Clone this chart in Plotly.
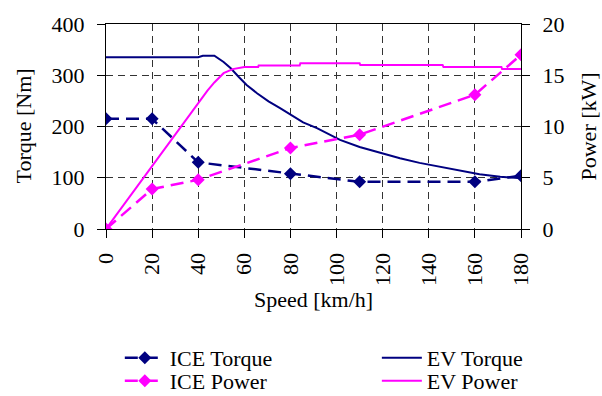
import plotly.graph_objects as go

# ---- data ----
ice_speed = [0, 20, 40, 80, 110, 160, 180]
ice_torque = [215, 215, 130, 108, 92, 92, 104]
ice_power = [0, 3.9, 4.8, 7.9, 9.2, 13.1, 17.0]

ev_torque_speed = [0, 10, 20, 30, 40, 42, 47, 51, 54, 57.5, 61, 65.5, 70.5, 75.5, 80,
                   85.5, 91.5, 97, 101.5, 110, 119, 127.5, 136, 145, 153.5, 162, 171, 180]
ev_torque = [335, 335, 335, 335, 335, 338, 338, 326, 314, 297, 281, 265, 249, 236, 223,
             208, 197, 185, 174, 160, 148, 138, 129, 121, 114, 107, 102, 99]

ev_power_speed = [0, 20, 40, 44, 47, 51, 55, 60, 66, 66.2, 84, 84.3, 110, 110.3,
                  146, 146.4, 171.5, 171.8, 180]
ev_power = [0, 6.1, 12.3, 13.5, 14.3, 15.2, 15.6, 15.8, 15.8, 15.95, 15.95, 16.17,
            16.17, 16.0, 16.0, 15.8, 15.8, 15.6, 15.6]

x_ticks = [0, 20, 40, 60, 80, 100, 120, 140, 160, 180]

NAVY = "#000080"
MAG = "#FF00FF"
FONT = "Liberation Serif, Times New Roman, serif"
FS = 22

fig = go.Figure()
fig.add_trace(go.Scatter(x=ice_speed, y=ice_torque, name="ICE Torque", mode="lines+markers",
                         legend="legend",
                         line=dict(color=NAVY, width=2.5, dash="13px,7px"),
                         marker=dict(symbol="diamond", size=10, color=NAVY)))
fig.add_trace(go.Scatter(x=ev_torque_speed, y=ev_torque, name="EV Torque", mode="lines",
                         legend="legend2",
                         line=dict(color=NAVY, width=2)))
fig.add_trace(go.Scatter(x=ice_speed, y=ice_power, name="ICE Power", mode="lines+markers",
                         yaxis="y2", legend="legend3",
                         line=dict(color=MAG, width=2.5, dash="13px,7px"),
                         marker=dict(symbol="diamond", size=10, color=MAG)))
fig.add_trace(go.Scatter(x=ev_power_speed, y=ev_power, name="EV Power", mode="lines",
                         yaxis="y2", legend="legend4",
                         line=dict(color=MAG, width=2)))

axis_common = dict(showline=True, linecolor="black", linewidth=1.3, ticks="outside",
                   ticklen=8, tickcolor="black", automargin=False,
                   tickfont=dict(family=FONT, size=FS, color="black"),
                   zeroline=False)

leg_common = dict(orientation="v", yanchor="middle", xanchor="left",
                  xref="container", yref="container", itemwidth=40, tracegroupgap=0,
                  font=dict(family=FONT, size=FS, color="black"),
                  bgcolor="rgba(0,0,0,0)")

ROW1 = 1 - 358 / 396
ROW2 = 1 - 381 / 396
COL1 = 0.199
COL2 = 0.626

fig.update_layout(
    width=602, height=396,
    margin=dict(l=106, r=81, t=24, b=167, autoexpand=False),
    paper_bgcolor="white", plot_bgcolor="white",
    font=dict(family=FONT, size=FS, color="black"),
    showlegend=True,
    legend=dict(x=COL1, y=ROW1, **leg_common),
    legend2=dict(x=COL2, y=ROW1, **leg_common),
    legend3=dict(x=COL1, y=ROW2, **leg_common),
    legend4=dict(x=COL2, y=ROW2, **leg_common),
    xaxis=dict(range=[0, 180], tickvals=x_ticks, tickangle=-90, mirror=True,
               showgrid=True, gridcolor="#333", griddash="7px,5px", gridwidth=1,
               ticklabelstandoff=6,
               title=dict(text="Speed [km/h]", standoff=6,
                          font=dict(family=FONT, size=FS)),
               **axis_common),
    yaxis=dict(range=[0, 400], dtick=100, showgrid=True, gridcolor="#333",
               griddash="7px,5px", gridwidth=1,
               ticklabelstandoff=8,
               **axis_common),
    yaxis2=dict(range=[0, 20], dtick=5, overlaying="y", side="right", showgrid=False,
                ticklabelstandoff=8,
                **axis_common),
    annotations=[
        dict(text="Torque [Nm]", textangle=-90, xref="paper", yref="paper",
             x=0, y=0.5, xshift=-83, xanchor="center", yanchor="middle",
             showarrow=False, font=dict(family=FONT, size=FS, color="black")),
        dict(text="Power [kW]", textangle=-90, xref="paper", yref="paper",
             x=1, y=0.5, xshift=67, xanchor="center", yanchor="middle",
             showarrow=False, font=dict(family=FONT, size=FS, color="black")),
    ],
)

fig.write_html("out.html")
